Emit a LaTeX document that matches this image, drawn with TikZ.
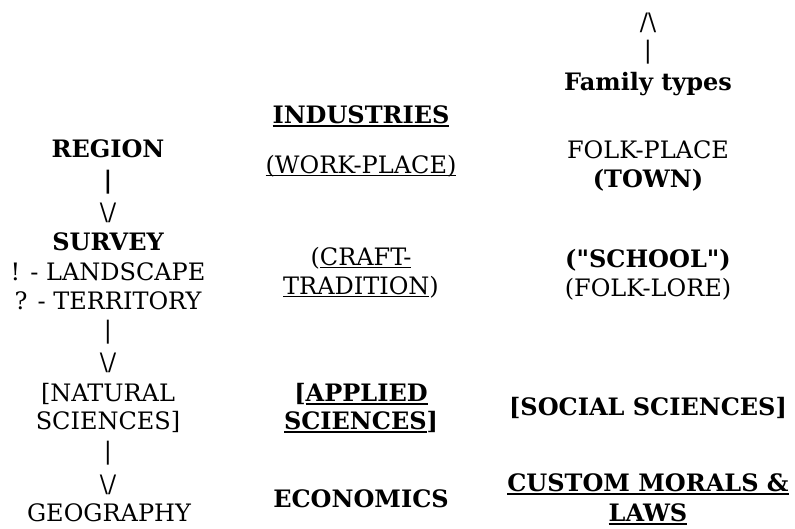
\documentclass[tikz,border=0pt]{standalone}
\usepackage{fontspec}
\setmainfont{DejaVu Serif}[Ligatures=TeXOff]

% underline kept at a fixed depth below the baseline
\newcommand\ulreg[1]{\setbox0\hbox{#1}\rlap{\rule[-3.3pt]{\wd0}{1.1pt}}\box0}
\newcommand\ulbold[1]{\setbox0\hbox{#1}\rlap{\rule[-3.8pt]{\wd0}{1.8pt}}\box0}

\tikzset{
  txt/.style={anchor=base, inner sep=0pt, outer sep=0pt,
              font=\fontsize{24}{29}\selectfont},
  hd/.style={txt, font=\fontsize{24}{29}\selectfont\bfseries},
}

\begin{document}
\begin{tikzpicture}[x=1pt,y=-1pt]
\useasboundingbox (0,0) rectangle (795,528);

% left column: region -> survey -> natural sciences -> geography
\node[hd]  (region)  at (108,157) {REGION};
\node[hd]  (barA)    at (108,188) {\textbar};
\node[txt] (vA)      at (108,220) {\textbackslash/};
\node[hd]  (survey)  at (108,250) {SURVEY};
\node[txt] (land)    at (108,280) {! - LANDSCAPE};
\node[txt] (terr)    at (108,309) {? - TERRITORY};
\node[txt] (barB)    at (108,338) {\textbar};
\node[txt] (vB)      at (108,370) {\textbackslash/};
\node[txt] (nat1)    at (108,401) {[NATURAL};
\node[txt] (nat2)    at (108,429) {SCIENCES]};
\node[txt] (barC)    at (108,459) {\textbar};
\node[txt] (vC)      at (108,492) {\textbackslash/};
\node[txt] (geo)     at (109,521) {GEOGRAPHY};

% middle column
\node[hd]  (ind)     at (361,123) {\ulbold{INDUSTRIES}};
\node[txt] (work)    at (361,173) {\ulreg{(WORK-PLACE)}};
\node[txt] (craft1)  at (361,265) {(\ulreg{CRAFT-}};
\node[txt] (craft2)  at (361,294) {\ulreg{TRADITION})};
\node[hd]  (app1)    at (361,401) {[\ulbold{APPLIED}};
\node[hd]  (app2)    at (361,429) {\ulbold{SCIENCES}]};
\node[hd]  (econ)    at (361,507) {ECONOMICS};

% right column
\node[txt] (up)      at (648,30)  {/\textbackslash};
\node[txt] (barD)    at (648,58)  {\textbar};
\node[hd]  (family)  at (648,90)  {Family types};
\node[txt] (folk)    at (648,158) {FOLK-PLACE};
\node[hd]  (town)    at (648,187) {(TOWN)};
\node[hd]  (school)  at (648,267) {("SCHOOL")};
\node[txt] (lore)    at (648,296) {(FOLK-LORE)};
\node[hd]  (social)  at (648,415) {[SOCIAL SCIENCES]};
\node[hd]  (custom1) at (648,491) {\ulbold{CUSTOM MORALS \&}};
\node[hd]  (custom2) at (648,521) {\ulbold{LAWS}};
\end{tikzpicture}
\end{document}
